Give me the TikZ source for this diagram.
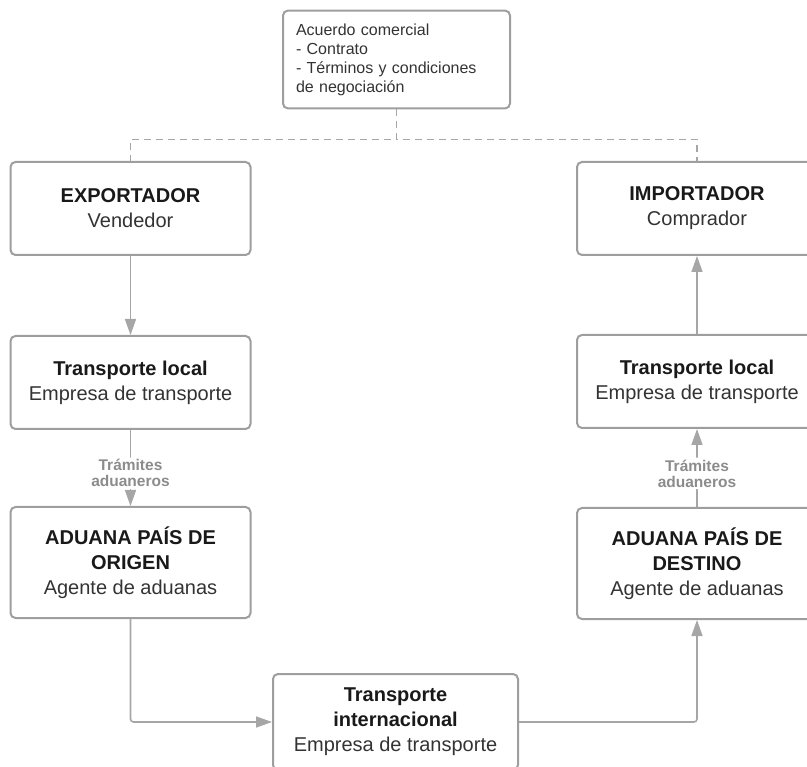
\documentclass[tikz,border=0pt]{standalone}
\usepackage{fontspec}
\setmainfont{Liberation Sans}
\usepackage{xcolor}
\usetikzlibrary{arrows.meta, positioning}
\definecolor{boxline}{HTML}{9E9E9E}
\definecolor{linkgray}{HTML}{A6A6A6}
\definecolor{txtgray}{HTML}{333333}
\definecolor{notegray}{HTML}{8C8C8C}
\newcommand{\boxhead}[1]{{\bfseries\color{black!90}#1}}
\tikzset{
  partybox/.style={draw=boxline, line width=2pt, rounded corners=5pt, align=center, text=txtgray,
                   font=\fontsize{20}{25}\selectfont, minimum width=240pt, minimum height=93pt, inner sep=4pt},
  customsbox/.style={partybox, minimum height=111pt},
  notebox/.style={draw=boxline, line width=2pt, rounded corners=5pt, align=left, text=txtgray,
                  font=\fontsize{16}{19}\selectfont, text width=201pt, minimum height=95pt, inner sep=13pt},
  flowarrow/.style={-{Triangle[length=16pt, width=11pt]}, line width=1.6pt, linkgray, rounded corners=3pt},
  dealline/.style={line width=1.6pt, linkgray, dash pattern=on 7pt off 5pt},
  tramite/.style={fill=white, text=notegray, font=\bfseries\fontsize{15.5}{16}\selectfont, align=center, inner sep=2pt}
}

\begin{document}
\begin{tikzpicture}[x=1pt, y=-1pt]

\clip (0,0) rectangle (807,767);

% Nodes
\node[notebox] (acuerdo) at (396.5,59.5) {Acuerdo comercial\\- Contrato\\- Términos y condiciones\\de negociación};

\node[partybox] (exp) at (130.5,208.5) {\boxhead{EXPORTADOR}\\Vendedor};
\node[partybox, below=79pt of exp] (locL) {\boxhead{Transporte local}\\Empresa de transporte};
\node[customsbox, below=76pt of locL] (origen) {\boxhead{ADUANA PAÍS DE}\\\boxhead{ORIGEN}\\Agente de aduanas};

\node[partybox] (imp) at (697,208.5) {\boxhead{IMPORTADOR}\\Comprador};
\node[partybox, below=78pt of imp] (locR) {\boxhead{Transporte local}\\Empresa de transporte};
\node[customsbox, below=78pt of locR] (destino) {\boxhead{ADUANA PAÍS DE}\\\boxhead{DESTINO}\\Agente de aduanas};

\node[partybox, minimum width=245pt, minimum height=96pt, anchor=north] (intl) at (395.5,673)
  {\boxhead{Transporte}\\\boxhead{internacional}\\Empresa de transporte};

% Agreement link
\draw[dealline] (acuerdo.south) -- ++(0,30) -| (exp.north);
\draw[dealline] (acuerdo.south) -- ++(0,30) -| (imp.north);

% Arrows
\draw[flowarrow] (exp) -- (locL);
\draw[flowarrow] (locL) -- node[tramite, pos=0.57] {Trámites\\aduaneros} (origen);
\draw[flowarrow] (origen.south) |- (intl.west);
\draw[flowarrow] (intl.east) -| (destino.south);
\draw[flowarrow] (destino) -- node[tramite, pos=0.43] {Trámites\\aduaneros} (locR);
\draw[flowarrow] (locR) -- (imp);

\end{tikzpicture}
\end{document}
